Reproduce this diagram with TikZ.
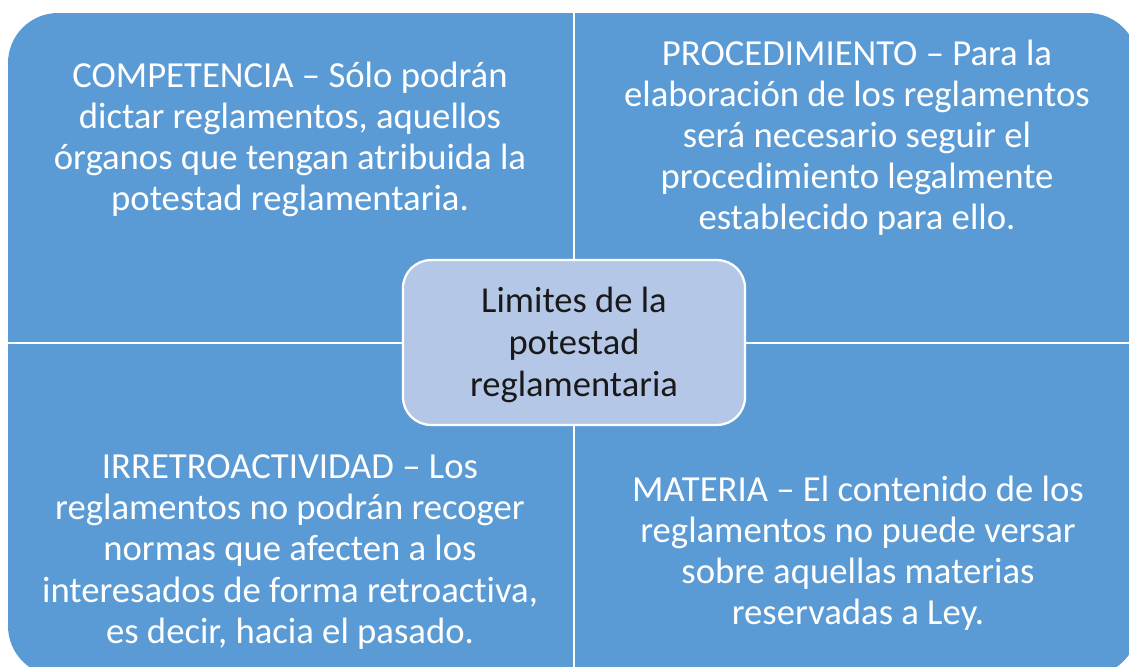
\documentclass[tikz,border=0pt]{standalone}
\usepackage{fontspec}
\setmainfont[RawFeature={-liga;-clig;-calt;-dlig}]{Carlito}
\usepackage{tikz}
\usetikzlibrary{positioning}

\definecolor{quadblue}{HTML}{5B9BD5}
\definecolor{hubblue}{HTML}{B4C7E7}

\begin{document}
\begin{tikzpicture}[
    x=0.025cm, y=-0.025cm,
    quadtext/.style={text=white, align=center, inner sep=0pt,
                     font=\fontsize{26.1}{29.2}\selectfont},
    hub/.style={rectangle, rounded corners=0.7cm, draw=white, line width=1.6pt,
                fill=hubblue, minimum width=8.55cm, minimum height=4.12cm,
                align=center, text=black!90, font=\fontsize{26}{29.8}\selectfont}
]
\useasboundingbox (0,0) rectangle (1129,666);
\fill[quadblue, rounded corners=1.25cm] (8,13) rectangle (1138,676);
% white dividers between the four limits
\coordinate (divtop) at (574,13);
\coordinate (divbot) at (574,676);
\coordinate (divleft) at (8,343);
\coordinate (divright) at (1138,343);
\draw[white, line width=1.5pt] (divtop) -- (divbot);
\draw[white, line width=1.5pt] (divleft) -- (divright);
\node[quadtext] (competencia) at (290,139) {COMPETENCIA – Sólo podrán\\dictar reglamentos, aquellos\\órganos que tengan atribuida la\\potestad reglamentaria.};
\node[quadtext] (procedimiento) at (857,138) {PROCEDIMIENTO – Para la\\elaboración de los reglamentos\\será necesario seguir el\\procedimiento legalmente\\establecido para ello.};
\node[quadtext] (irretro) at (290,552) {IRRETROACTIVIDAD – Los\\reglamentos no podrán recoger\\normas que afecten a los\\interesados de forma retroactiva,\\es decir, hacia el pasado.};
\node[quadtext] (materia) at (858,553) {MATERIA – El contenido de los\\reglamentos no puede versar\\sobre aquellas materias\\reservadas a Ley.};
\node[hub] (limites) at (574,342.5) {\parbox{6cm}{\centering\vspace*{3pt}Limites de la\\potestad\\reglamentaria}};
\end{tikzpicture}
\end{document}
